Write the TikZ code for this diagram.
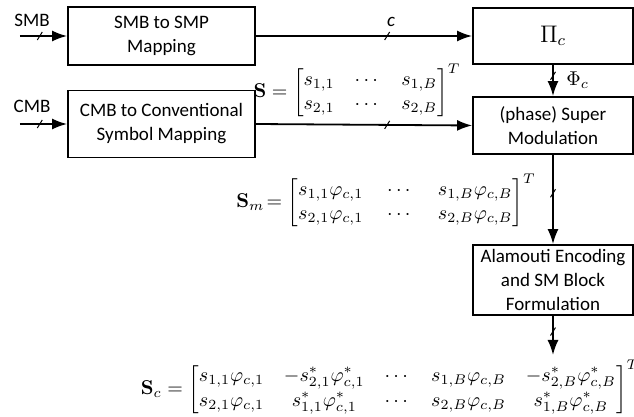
\documentclass[tikz,border=0pt]{standalone}
\usepackage{amsmath}
\usepackage{amssymb}
\usepackage[no-math]{fontspec}
\newfontfamily\boxfont{Carlito}
\usetikzlibrary{arrows.meta,calc}

\begin{document}
\begin{tikzpicture}[x=0.5pt,y=-0.5pt,
    blk/.style={draw,line width=0.9pt,rectangle,align=center,inner sep=0pt,font=\boxfont\fontsize{9.5}{12}\selectfont},
    sig/.style={-{Latex[length=7.5pt,width=5.5pt]},line width=0.9pt},
    tick/.style={line width=0.5pt},
    lbl/.style={inner sep=0pt,font=\fontsize{10}{12}\selectfont},
    txt/.style={inner sep=0pt,font=\boxfont\fontsize{9.5}{12}\selectfont}]
    \useasboundingbox (0,0) rectangle (634,417);

    \node[blk,minimum width=93.5pt,minimum height=29pt] (smb) at (161.5,36) {SMB to SMP\\Mapping};
    \node[blk,minimum width=93.5pt,minimum height=33.5pt] (cmb) at (161.5,124) {CMB to Conventional\\Symbol Mapping};
    \node[blk,minimum width=80pt,minimum height=28pt,font=\fontsize{12}{14}\selectfont] (pic) at (553,36) {$\Pi_c$};
    \node[blk,minimum width=80pt,minimum height=28.5pt] (sup) at (553,125.5) {(phase) Super\\Modulation};
    \node[blk,minimum width=80pt,minimum height=35pt] (ala) at (553,280) {Alamouti Encoding\\and SM Block\\Formulation};

    \coordinate (smbin) at (20,36);
    \coordinate (cmbin) at (20,124);
    \coordinate (out) at (553,355);

    \draw[sig] (smbin) -- coordinate[pos=0.42] (t1) (smb.west);
    \draw[sig] (cmbin) -- coordinate[pos=0.42] (t2) (cmb.west);
    \draw[sig] (smb.east) -- coordinate[pos=0.607] (t3) (pic.west);
    \draw[sig] (cmb.east) -- coordinate[pos=0.607] (t4) (sup.west);
    \draw[sig] (pic.south) -- coordinate[pos=0.35] (t5) (sup.north);
    \draw[sig] (sup.south) -- coordinate[pos=0.43] (t6) (ala.north);
    \draw[sig] (ala.south) -- coordinate[pos=0.4] (t7) (out);

    % bus marks
    \foreach \t in {t1,t2,t3,t4,t5,t6,t7}
        \draw[tick] ($(\t)+(-2.5,4)$) -- ($(\t)+(2.5,-4)$);

    \node[txt] (smblbl) at (32,20) {SMB};
    \node[txt] (cmblbl) at (32,106) {CMB};
    \node[txt] (clbl) at (391,22) {\textit{c}};
    \node[lbl,anchor=west] (philbl) at (566,80) {$\Phi_c$};

    \node[lbl] (slbl) at (357,90) {$\mathbf{S}=\begin{bmatrix}s_{1,1} & \cdots & s_{1,B}\\ s_{2,1} & \cdots & s_{2,B}\end{bmatrix}^T$};
    \node[lbl] (smlbl) at (386,200) {\setlength{\arraycolsep}{6pt}$\mathbf{S}_m\!=\begin{bmatrix}s_{1,1}\varphi_{c,1} & \cdots & s_{1,B}\varphi_{c,B}\\ s_{2,1}\varphi_{c,1} & \cdots & s_{2,B}\varphi_{c,B}\end{bmatrix}^T$};
    \node[lbl] (sclbl) at (390,387) {$\mathbf{S}_c=\begin{bmatrix}s_{1,1}\varphi_{c,1} & -s^*_{2,1}\varphi^*_{c,1} & \cdots & s_{1,B}\varphi_{c,B} & -s^*_{2,B}\varphi^*_{c,B}\\ s_{2,1}\varphi_{c,1} & s^*_{1,1}\varphi^*_{c,1} & \cdots & s_{2,B}\varphi_{c,B} & s^*_{1,B}\varphi^*_{c,B}\end{bmatrix}^T$};
\end{tikzpicture}
\end{document}
